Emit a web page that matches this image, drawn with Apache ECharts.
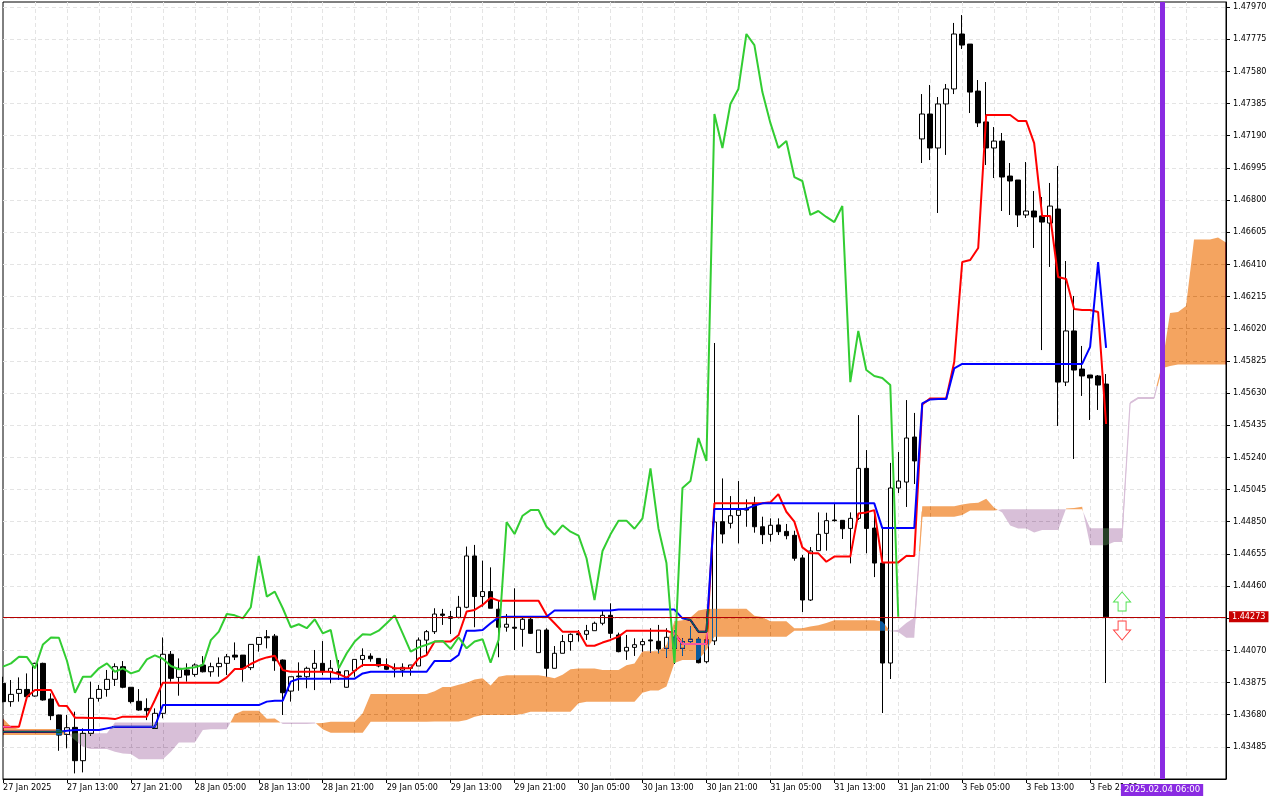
<!DOCTYPE html>
<html><head><meta charset="utf-8">
<style>html,body{margin:0;padding:0;background:#fff}#c{width:1280px;height:800px}</style>
<script src="https://cdn.jsdelivr.net/npm/echarts@6/dist/echarts.min.js"></script>
</head><body><div id="c"></div>
<script>
// All prices are in points: 143870 means 1.43870
const tickLabels = ['27 Jan 2025','27 Jan 13:00','27 Jan 21:00','28 Jan 05:00','28 Jan 13:00','28 Jan 21:00','29 Jan 05:00','29 Jan 13:00','29 Jan 21:00','30 Jan 05:00','30 Jan 13:00','30 Jan 21:00','31 Jan 05:00','31 Jan 13:00','31 Jan 21:00','3 Feb 05:00','3 Feb 13:00','3 Feb 21:00'];
const barCount = 154;
const opens = [143870,143759,143809,143833,143793,143991,143775,143678,143560,143603,
143401,143567,143779,143833,143894,143971,143846,143761,143718,143597,
143688,144046,143906,143951,143924,143981,143940,143971,143991,144041,
144041,143965,144106,144152,144156,144011,143823,143914,143910,143961,
143991,143940,143940,143846,143946,144015,144035,144021,143981,143957,
143950,143961,143975,144132,144183,144290,144274,144270,144331,144642,
144396,144426,144319,144210,144210,144197,144258,144056,144193,143961,
144052,144123,144171,144167,144189,144234,144282,144163,144066,144088,
144104,144133,144125,144082,144149,144082,144123,144137,144001,144127,
144850,144840,144888,144931,144961,144819,144773,144830,144791,144767,
144630,144375,144674,144779,144860,144858,144809,144870,145173,144811,
144599,143993,145054,145090,145363,147170,147321,147115,147382,147473,
147806,147745,147460,147273,147115,147157,146945,146921,146709,146733,
146703,146660,146745,145696,146006,145775,145739,145733,145684];
const closes = [143759,143803,143833,143789,143991,143769,143674,143556,143601,143401,
143567,143779,143833,143894,143971,143846,143759,143708,143704,143688,
144046,143900,143961,143920,143981,143940,143971,143991,144031,144029,
143961,144106,144148,144146,144007,143813,143910,143910,143961,143991,
143940,143961,143930,143946,144015,144039,144019,143975,143955,143961,
143967,143981,144132,144183,144290,144282,144264,144331,144642,144396,
144426,144325,144210,144228,144204,144258,144173,144193,143961,144052,
144123,144167,144165,144189,144234,144282,144173,144062,144088,144104,
144123,144127,144078,144149,144082,144123,144137,143995,144133,144848,
144775,144886,144920,144920,144819,144771,144828,144789,144765,144628,
144375,144672,144773,144856,144856,144807,144870,145173,144809,144599,
143993,145054,145096,145357,145218,147321,147115,147382,147473,147806,
147739,147454,147267,147115,147157,146939,146915,146709,146733,146697,
146666,146763,145696,146006,145769,145733,145721,145678,144273];
const lows = [143755,143728,143759,143785,143789,143765,143647,143461,143476,143324,
143330,143552,143759,143789,143854,143840,143748,143704,143647,143595,
143658,143880,143795,143880,143910,143936,143910,143910,143920,144011,
143880,143950,144062,144082,143946,143678,143759,143825,143840,143829,
143920,143870,143890,143844,143910,143971,144001,143967,143951,143906,
143910,143916,143975,144041,144169,144224,144169,144264,144325,144210,
144335,144325,144028,144183,144072,144092,144169,144056,143910,143961,
144052,144068,144123,144133,144189,144222,144143,144058,144012,144036,
144062,144056,144052,144026,143987,144036,144113,143991,143991,144102,
144718,144809,144718,144819,144783,144714,144729,144769,144743,144613,
144302,144369,144674,144674,144850,144745,144597,144860,144658,144514,
143690,143896,145024,144939,145078,147024,147042,146721,147073,147442,
147715,147327,147242,147012,146933,146733,146709,146636,146691,146509,
145890,146394,145430,145672,145230,145612,145466,145527,143872];
const highs = [143910,143890,143906,143930,143995,143995,143809,143680,143678,143698,
143597,143880,143860,143951,143991,144005,143846,143835,143779,143718,
144148,144066,144021,143991,143991,144035,143995,144027,144048,144118,
144041,144106,144148,144193,144169,144015,143910,143997,143971,144072,
144126,144011,144011,143946,144015,144082,144052,144021,144021,143991,
143991,143981,144148,144193,144325,144321,144309,144400,144699,144709,
144614,144573,144375,144290,144446,144278,144270,144193,144204,144096,
144163,144173,144193,144224,144244,144311,144355,144177,144163,144143,
144141,144204,144224,144204,144193,144143,144214,144149,144270,145933,
145112,145005,145096,144985,145001,144880,144870,144870,144836,144795,
144648,144696,144906,144904,144961,144858,144906,145496,145284,144921,
144811,145206,145272,145587,145509,147442,147497,147424,147503,147873,
147921,147745,147527,147515,147242,147206,147024,146921,147030,146854,
146818,146903,147006,146430,146218,145915,145739,145739,145745];
const tenkan = [143607,143607,143607,143789,143829,143829,143829,143734,143732,143662,
143662,143660,143660,143658,143653,143668,143668,143668,143668,143769,
143874,143874,143874,143874,143874,143874,143874,143874,143906,143957,
143957,143987,144011,144027,144037,143950,143940,143940,143940,143940,
143940,143940,143926,143904,143946,143981,143981,143981,143981,143961,
143961,143961,144021,144041,144123,144123,144123,144163,144305,144315,
144345,144389,144371,144371,144371,144371,144371,144371,144284,144234,
144183,144183,144183,144098,144098,144117,144133,144153,144189,144189,
144189,144189,144189,144189,144173,144109,144109,144109,144109,144961,
144961,144961,144961,144961,144961,144961,144967,145017,144910,144850,
144694,144658,144658,144607,144638,144638,144638,144900,144906,144920,
144603,144603,144603,144642,144642,145560,145597,145597,145597,145818,
146424,146436,146509,147315,147315,147315,147315,147279,147279,147145,
146703,146703,146333,146321,146139,146133,146133,146121,145442];
const kijun = [143577,143577,143577,143577,143577,143577,143577,143577,143583,143587,
143587,143587,143587,143597,143607,143607,143607,143607,143607,143607,
143738,143738,143738,143738,143738,143738,143738,143738,143738,143738,
143738,143738,143738,143759,143765,143765,143880,143898,143898,143898,
143898,143898,143898,143898,143898,143930,143940,143940,143940,143940,
143940,143940,143940,143940,144006,144006,144006,144042,144189,144189,
144193,144234,144270,144274,144274,144274,144274,144274,144274,144311,
144311,144311,144311,144311,144311,144311,144311,144317,144317,144317,
144317,144317,144317,144317,144317,144264,144254,144183,144183,144927,
144927,144927,144927,144927,144947,144961,144961,144961,144961,144961,
144961,144961,144961,144961,144961,144961,144961,144961,144961,144961,
144811,144811,144811,144811,144811,145567,145591,145593,145593,145779,
145806,145806,145806,145806,145806,145806,145806,145806,145806,145806,
145806,145806,145806,145806,145806,145806,145909,146424,145903];
const chikou = [143971,143991,144031,144029,143961,144106,144148,144146,144007,143813,
143910,143910,143961,143991,143940,143961,143930,143946,144015,144039,
144019,143975,143955,143961,143967,143981,144132,144183,144290,144282,
144264,144331,144642,144396,144426,144325,144210,144228,144204,144258,
144173,144193,143961,144052,144123,144167,144165,144189,144234,144282,
144173,144062,144088,144104,144123,144127,144078,144149,144082,144123,
144137,143995,144133,144848,144775,144886,144920,144920,144819,144771,
144828,144789,144765,144628,144375,144672,144773,144856,144856,144807,
144870,145173,144809,144599,143993,145054,145096,145357,145218,147321,
147115,147382,147473,147806,147739,147454,147267,147115,147157,146939,
146915,146709,146733,146697,146666,146763,145696,146006,145769,145733,
145721,145678,144273];
const spanA = [143657,143607,143593,143593,143593,143593,143593,143593,143567,143526,
143486,143472,143472,143472,143455,143445,143441,143409,143409,143409,
143409,143455,143512,143512,143512,143587,143592,143592,143592,143683,
143703,143703,143703,143655,143657,143624,143624,143623,143623,143627,
143630,143637,143637,143637,143637,143688,143806,143806,143806,143806,
143806,143806,143806,143806,143822,143847,143847,143862,143874,143893,
143901,143857,143910,143919,143919,143919,143919,143919,143912,143901,
143922,143955,143960,143960,143960,143950,143950,143950,143980,143990,
144064,144064,144064,144102,144247,144252,144269,144311,144320,144322,
144322,144322,144322,144322,144279,144272,144247,144247,144247,144204,
144204,144214,144222,144235,144253,144253,144253,144253,144253,144253,
144245,144186,144181,144146,144146,144944,144944,144944,144944,144944,
144954,144961,144964,144989,144935,144905,144827,144809,144809,144784,
144799,144799,144799,144930,144933,144940,144707,144707,144707,144726,
144726,145563,145594,145594,145594,145798,146115,146121,146157,146560,
146560,146560,146572,146542];
const spanB = [143556,143556,143556,143556,143556,143556,143556,143556,143561,143567,
143567,143567,143567,143567,143633,143633,143633,143633,143633,143633,
143633,143633,143633,143633,143633,143633,143633,143633,143633,143633,
143633,143633,143633,143633,143633,143633,143633,143633,143633,143633,
143591,143571,143571,143571,143571,143571,143637,143637,143637,143637,
143637,143637,143637,143637,143638,143638,143638,143638,143648,143668,
143678,143678,143678,143678,143678,143684,143698,143698,143698,143698,
143698,143698,143749,143759,143759,143759,143759,143759,143759,143759,
143813,143826,143826,143850,143993,144011,144011,144011,144072,144153,
144153,144153,144153,144153,144153,144153,144153,144153,144153,144189,
144189,144189,144189,144189,144189,144189,144189,144189,144189,144189,
144189,144188,144195,144236,144268,144880,144880,144880,144880,144880,
144890,144917,144917,144917,144917,144925,144925,144925,144925,144925,
144925,144925,144925,144925,144925,144925,144810,144810,144810,144810,
144810,145575,145605,145605,145605,145780,145794,145803,145803,145803,
145803,145803,145803,145803];
const thinCloudBars = [114,140,141,142,143,144,145];
const lastPrice = 144273;
const markerBar = 145;
const markerLabel = '2025.02.04 06:00';
const upArrow = [[140,144366]];
const downArrow = [[140,144190]];

const px = v => v / 100000;
const categories = Array.from({length: barCount}, (_, i) => (i % 8 === 0 && tickLabels[i / 8]) || '');
const FONT = '"DejaVu Sans Condensed", "Liberation Sans", Arial, sans-serif';

// split the cloud into same-colour polygons (index, price) so that seams never overlap
const regions = [];
(function () {
  let a = [], b = [], sign = null;
  for (let i = 0; i < barCount; i++) {
    const d = spanA[i] - spanB[i];
    const s = d >= 0 ? 1 : -1;
    if (sign !== null && s !== sign) {
      const dp = spanA[i - 1] - spanB[i - 1];
      const f = dp / (dp - d);
      const t = i - 1 + f, v = spanA[i - 1] + (spanA[i] - spanA[i - 1]) * f;
      a.push([t, v]); b.push([t, v]);
      regions.push({sign, pts: a.concat(b.reverse())});
      a = [[t, v]]; b = [];
    }
    a.push([i, spanA[i]]); b.push([i, spanB[i]]);
    sign = s;
  }
  regions.push({sign, pts: a.concat(b.reverse())});
})();

// very thin stretches of the cloud keep a visible hairline along their middle
const thinSegments = [];
thinCloudBars.forEach(i => {
  const m0 = (spanA[i] + spanB[i]) / 2, m1 = (spanA[i + 1] + spanB[i + 1]) / 2;
  const d0 = spanA[i] - spanB[i], d1 = spanA[i + 1] - spanB[i + 1];
  if ((d0 >= 0) === (d1 >= 0)) {
    thinSegments.push({sign: d0 >= 0 ? 1 : -1, pts: [[i, m0], [i + 1, m1]]});
  } else {
    const f = d0 / (d0 - d1), t = i + f, v = m0 + (m1 - m0) * f;
    thinSegments.push({sign: d0 >= 0 ? 1 : -1, pts: [[i, m0], [t, v]]});
    thinSegments.push({sign: d1 >= 0 ? 1 : -1, pts: [[t, v], [i + 1, m1]]});
  }
});

function toPixel(api, t, v) {
  const i0 = Math.floor(t), f = t - i0;
  const p0 = api.coord([i0, px(v)]);
  if (!f) return p0;
  const p1 = api.coord([i0 + 1, px(v)]);
  return [p0[0] + (p1[0] - p0[0]) * f, p0[1]];
}
function renderCloud(params, api) {
  const r = regions[params.dataIndex];
  return {type: 'polygon', shape: {points: r.pts.map(([t, v]) => toPixel(api, t, v))}, silent: true,
    style: {fill: r.sign > 0 ? '#0B5B9F' : '#274027', stroke: null}};
}
function renderThin(params, api) {
  const s = thinSegments[params.dataIndex];
  return {type: 'polyline', shape: {points: s.pts.map(([t, v]) => toPixel(api, t, v))}, silent: true,
    style: {fill: null, stroke: s.sign > 0 ? '#F4A460' : '#D8BFD8', lineWidth: 1.2}};
}

const arrowUp = 'path://M8.5,0 L17,10 L12.5,10 L12.5,19 L4.5,19 L4.5,10 L0,10 Z';
const arrowDown = 'path://M4.5,0 L12.5,0 L12.5,9 L17,9 L8.5,19 L0,9 L4.5,9 Z';

const chart = echarts.init(document.getElementById('c'), null, {renderer: 'canvas'});
chart.setOption({
  animation: false,
  backgroundColor: '#ffffff',
  grid: {left: 2, top: 2, width: 1224, height: 777, show: true, borderColor: '#000', borderWidth: 1, backgroundColor: 'transparent', containLabel: false},
  graphic: [{type: 'rect', z: 100, silent: true, shape: {x: 0, y: 0, width: 2, height: 800}, style: {fill: '#fff'}}],
  xAxis: {
    type: 'category', data: categories, boundaryGap: false,
    axisLine: {show: true, lineStyle: {color: '#000'}},
    axisTick: {show: true, length: 4, lineStyle: {color: '#000'}, interval: (i) => i % 8 === 0 && i <= 136},
    axisLabel: {interval: 7, align: 'left', margin: 4, color: '#000', fontSize: 9, fontFamily: FONT},
    splitLine: {show: true, showMinLine: false, showMaxLine: false, interval: 3, lineStyle: {color: '#E4E4E4', type: [4, 3], width: 1}}
  },
  yAxis: {
    type: 'value', position: 'right', min: 1.43290, max: 1.48000, interval: 0.00195, scale: true,
    axisLine: {show: true, onZero: false, lineStyle: {color: '#000'}},
    axisTick: {show: true, length: 4, lineStyle: {color: '#000'}},
    axisLabel: {margin: 7, color: '#000', fontSize: 9, fontFamily: FONT, showMinLabel: false, showMaxLabel: false,
      formatter: v => v.toFixed(5)},
    splitLine: {show: true, showMinLine: false, showMaxLine: false, lineStyle: {color: '#E4E4E4', type: [4, 3], width: 1}}
  },
  series: [
    {
      type: 'candlestick', z: 2, barWidth: 5, silent: true,
      data: opens.map((o, i) => [px(o), px(closes[i]), px(lows[i]), px(highs[i])]),
      itemStyle: {color: '#ffffff', color0: '#000000', borderColor: '#000000', borderColor0: '#000000', borderWidth: 1},
      markLine: {
        z: 8, silent: true, symbol: 'none', animation: false, precision: 5,
        lineStyle: {color: '#B40000', width: 1, type: 'solid'},
        label: {position: 'end', distance: 3, formatter: () => px(lastPrice).toFixed(5), color: '#fff', backgroundColor: '#C80000',
          padding: [1, 3, 1, 3], fontSize: 9, fontFamily: FONT},
        data: [{yAxis: px(lastPrice)}]
      }
    },
    {type: 'line', z: 4, name: 'tenkan', data: tenkan.map(px), showSymbol: false, symbol: 'none', silent: true, lineStyle: {color: '#FF0000', width: 2}},
    {type: 'line', z: 5, name: 'kijun', data: kijun.map(px), showSymbol: false, symbol: 'none', silent: true, lineStyle: {color: '#0000FF', width: 2}},
    {type: 'custom', z: 6, silent: true, coordinateSystem: 'cartesian2d', renderItem: renderCloud, blendMode: 'difference',
      data: regions.map((r, n) => [n, px(r.pts[0][1])])},
    {type: 'custom', z: 6.5, silent: true, coordinateSystem: 'cartesian2d', renderItem: renderThin,
      data: thinSegments.map((s, n) => [n, px(s.pts[0][1])])},
    {type: 'line', z: 7, name: 'chikou', data: chikou.map(px), showSymbol: false, symbol: 'none', silent: true, lineStyle: {color: '#32CD32', width: 2},
      markLine: {
        z: 9, silent: true, symbol: 'none', animation: false,
        lineStyle: {color: '#8A2BE2', width: 5, type: 'solid'},
        label: {position: 'start', distance: 5, formatter: markerLabel, color: '#fff', backgroundColor: '#8A2BE2',
          padding: [1, 3, 1, 3], fontSize: 9.5, fontFamily: FONT},
        data: [{xAxis: markerBar}]
      }},
    {type: 'scatter', z: 8, silent: true, symbol: arrowUp, symbolSize: [17, 19],
      data: upArrow.map(([i, v]) => [i, px(v)]),
      itemStyle: {color: '#FFFFFF', borderColor: '#22D822', borderWidth: 1}},
    {type: 'scatter', z: 8, silent: true, symbol: arrowDown, symbolSize: [17, 19],
      data: downArrow.map(([i, v]) => [i, px(v)]),
      itemStyle: {color: '#FFFFFF', borderColor: '#FF1010', borderWidth: 1}}
  ]
});
</script></body></html>
